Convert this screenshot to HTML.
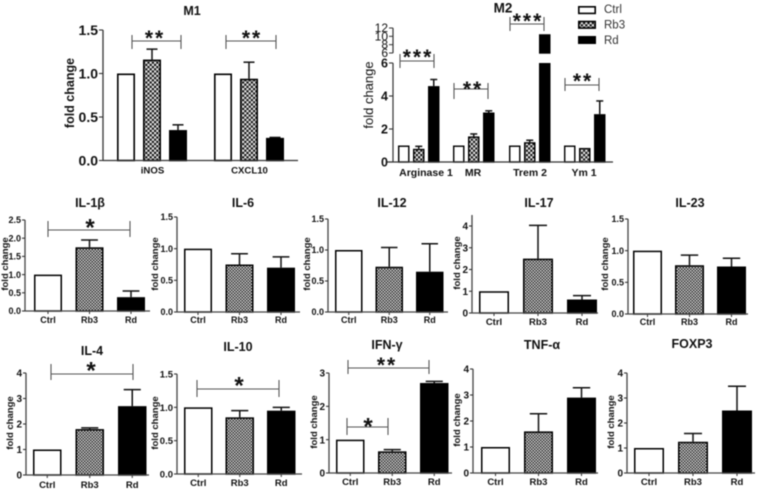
<!DOCTYPE html>
<html>
<head>
<meta charset="utf-8">
<title>Fold change charts</title>
<style>
html,body{margin:0;padding:0;background:#fff;width:760px;height:490px;overflow:hidden}
svg{display:block;filter:blur(0.5px)}
text{font-family:"Liberation Sans","DejaVu Sans",sans-serif;fill:#111}
</style>
</head>
<body>
<svg id="chart" xmlns="http://www.w3.org/2000/svg" width="760" height="490" viewBox="0 0 760 490">
  <defs>
    <pattern id="checkS" width="3" height="3" patternUnits="userSpaceOnUse">
      <rect width="3" height="3" fill="#2a2a2a"/>
      <rect width="1.5" height="1.5" fill="#d8d8d8"/>
      <rect x="1.5" y="1.5" width="1.5" height="1.5" fill="#d8d8d8"/>
    </pattern>
    <pattern id="checkL" width="4.4" height="4.4" patternUnits="userSpaceOnUse">
      <rect width="4.4" height="4.4" fill="#111"/>
      <rect width="2.2" height="2.2" fill="#eee"/>
      <rect x="2.2" y="2.2" width="2.2" height="2.2" fill="#eee"/>
    </pattern>
  </defs>
  <g>
    <g>
      <rect x="578.8" y="6.8" width="16.4" height="6.6" fill="#fff" stroke="#000" stroke-width="1.6"/>
      <text x="604" y="13" font-size="11.5" style="fill:#333">Ctrl</text>
    </g>
    <g>
      <rect x="578.8" y="21.5" width="16.4" height="6.6" fill="url(#checkL)" stroke="#000" stroke-width="1.6"/>
      <text x="604" y="28.5" font-size="11.5" style="fill:#333">Rb3</text>
    </g>
    <g>
      <rect x="578" y="36" width="18" height="8" fill="#000"/>
      <text x="604" y="44" font-size="11.5" style="fill:#333">Rd</text>
    </g>
  </g>
</svg>
<script>
// ---------- data ----------
const categories = ['Ctrl', 'Rb3', 'Rd'];

const m1Groups = ['iNOS', 'CXCL10'];
const m1Means = [[1, 1.16, 0.35], [1, 0.94, 0.26]];
const m1Errors = [[0, 0.12, 0.06], [0, 0.19, 0.005]];
const m1Ticks = ['0.0', '0.5', '1.0', '1.5'];

const m2Groups = ['Arginase 1', 'MR', 'Trem 2', 'Ym 1'];
const m2Means = [[1, 0.8, 4.6], [1, 1.55, 3.0], [1, 1.2, 10.5], [1, 0.85, 2.9]];
const m2Errors = [[0, 0.15, 0.4], [0, 0.15, 0.1], [0, 0.12, 0], [0, 0, 0.8]];
const m2LowerTicks = ['0', '2', '4', '6'];
const m2UpperTicks = ['6', '8', '10', '12'];

const il1bMeans = [1, 1.75, 0.38];
const il1bErrors = [0, 0.2, 0.17];
const il1bTicks = ['0.0', '0.5', '1.0', '1.5', '2.0', '2.5'];

const il6Means = [1, 0.75, 0.7];
const il6Errors = [0, 0.17, 0.17];
const il6Ticks = ['0.0', '0.5', '1.0', '1.5'];

const il12Means = [1, 0.73, 0.65];
const il12Errors = [0, 0.31, 0.45];
const il12Ticks = ['0.0', '0.5', '1.0', '1.5'];

const il17Means = [1, 2.5, 0.62];
const il17Errors = [0, 1.53, 0.18];
const il17Ticks = ['0', '1', '2', '3', '4'];

const il23Means = [1, 0.77, 0.75];
const il23Errors = [0, 0.16, 0.13];
const il23Ticks = ['0.0', '0.5', '1.0', '1.5'];

const il4Means = [1, 1.8, 2.7];
const il4Errors = [0, 0.05, 0.65];
const il4Ticks = ['0', '1', '2', '3', '4'];

const il10Means = [1, 0.85, 0.95];
const il10Errors = [0, 0.1, 0.05];
const il10Ticks = ['0.0', '0.5', '1.0', '1.5'];

const ifngMeans = [1, 0.65, 2.7];
const ifngErrors = [0, 0.05, 0.05];
const ifngTicks = ['0', '1', '2', '3'];

const tnfaMeans = [1, 1.6, 2.9];
const tnfaErrors = [0, 0.68, 0.38];
const tnfaTicks = ['0', '1', '2', '3', '4'];

const foxp3Means = [1, 1.25, 2.5];
const foxp3Errors = [0, 0.33, 0.97];
const foxp3Ticks = ['0', '1', '2', '3', '4'];

// ---------- helpers ----------
const NS = 'http://www.w3.org/2000/svg';
const root = document.getElementById('chart');

function mk(parent, tag, attrs, txt) {
  const el = document.createElementNS(NS, tag);
  for (const k in attrs) el.setAttribute(k, attrs[k]);
  if (txt !== undefined) el.textContent = txt;
  parent.appendChild(el);
  return el;
}
function line(parent, x1, y1, x2, y2, color, w) {
  return mk(parent, 'line', { x1: x1, y1: y1, x2: x2, y2: y2, stroke: color, 'stroke-width': w });
}
function linear(v0, p0, v1, p1) {
  return function (v) { return p0 + (v - v0) * (p1 - p0) / (v1 - v0); };
}
function drawBar(parent, x, w, yTop, yBase, idx, sw, pat) {
  const fills = ['#fff', 'url(#' + pat + ')', '#000'];
  return mk(parent, 'rect', {
    x: x + sw / 2, y: yTop + sw / 2, width: w - sw,
    height: Math.max(0.5, yBase - yTop - sw / 2),
    fill: fills[idx], stroke: '#000', 'stroke-width': sw
  });
}
function drawWhisker(parent, cx, yMean, yTop, capW, w) {
  const g = mk(parent, 'g', {});
  line(g, cx, yMean, cx, yTop, '#111', w);
  line(g, cx - capW / 2, yTop, cx + capW / 2, yTop, '#111', w);
  return g;
}
function drawBracket(parent, b) {
  const g = mk(parent, 'g', {});
  
  
  line(g, b.x1, b.y, b.x2, b.y, '#555', 1.1);
  line(g, b.x1, b.t1, b.x1, b.t2, '#555', 1.1);
  line(g, b.x2, b.t1, b.x2, b.t2, '#555', 1.1);
  const size = b.size || 21;
  const st = mk(g, 'text', {
    x: b.sx, y: b.sy - 1 + size * 0.56, 'font-size': size, 'font-weight': 'bold',
    'text-anchor': 'middle', 'letter-spacing': b.stars.length > 1 ? 2 : 0
  }, b.stars);
  
  
}
function yAxisLabel(parent, x, y, size, weight) {
  const t = mk(parent, 'text', {
    x: x, y: y, 'font-size': size, 'font-weight': weight, 'text-anchor': 'middle',
    transform: 'rotate(-90 ' + x + ' ' + y + ')'
  }, 'fold change');
  
  
}
function title(parent, text, x, y, size) {
  const t = mk(parent, 'text', {
    x: x, y: y, 'font-size': size, 'font-weight': 'bold', 'text-anchor': 'middle'
  }, text);
  
  
}
function drawTicks(parent, ticks, y, axisX, size, len) {
  ticks.forEach(function (lab) {
    const py = y(parseFloat(lab));
    line(parent, axisX - len, py, axisX, py, '#333', 1.1);
    const t = mk(parent, 'text', {
      x: axisX - len - 1, y: py + size * 0.36, 'font-size': size,
      'font-weight': 'bold', 'text-anchor': 'end'
    }, lab);
    
    
  });
}

// ---------- small three-bar panel ----------
function drawPanel(name, titleText, means, errors, ticks, L) {
  const g = mk(root, 'g', {});
  
  
  const lastTick = parseFloat(ticks[ticks.length - 1]);
  const y = linear(0, L.y0, lastTick, L.yT);
  const axisTop = L.axisTop === undefined ? L.yT : L.axisTop;

  title(g, titleText, L.tx, L.ty, L.ts || 12.5);
  yAxisLabel(g, L.lx, L.ly, L.ls || 9.5, 'bold');

  means.forEach(function (m, i) {
    const x = L.bx + i * L.step;
    const cx = x + L.bw / 2;
    if (errors[i] > 0) {
      const wh = drawWhisker(g, cx, y(m), y(m + errors[i]), L.bw * 0.6, 1.5);
      
      
    }
    const bar = drawBar(g, x, L.bw, y(m), L.y0, i, 1.5, 'checkS');
    
    
    line(g, cx, L.y0, cx, L.y0 + 3, '#333', 1);
    const xl = mk(g, 'text', {
      x: cx, y: L.xly, 'font-size': L.xs || 9, 'font-weight': 'bold', 'text-anchor': 'middle'
    }, categories[i]);
    
    
  });

  line(g, L.ax, axisTop, L.ax, L.y0 + 0.5, '#444', 1.3);
  line(g, L.ax, L.y0, L.end, L.y0, '#444', 1.3);
  drawTicks(g, ticks, y, L.ax, L.ys || 9, 3);
  (L.brackets || []).forEach(function (b) { drawBracket(g, b); });
}

// ---------- M1 ----------
(function () {
  const g = mk(root, 'g', {});
  
  
  const y = linear(0, 160.5, 1.5, 30);
  const groupX = [117, 214];
  const barW = 18, step = 26;
  title(g, 'M1', 192, 15, 12.5);
  yAxisLabel(g, 74, 93, 12.5, 'bold');
  m1Means.forEach(function (ms, gi) {
    ms.forEach(function (m, i) {
      const x = groupX[gi] + i * step;
      const cx = x + barW / 2;
      if (m1Errors[gi][i] > 0) {
        const wh = drawWhisker(g, cx, y(m), y(m + m1Errors[gi][i]), 11, 1.5);
        
        
      }
      const bar = drawBar(g, x, barW, y(m), 160.5, i, 1.6, 'checkL');
      
      
    });
    const xl = mk(g, 'text', {
      x: groupX[gi] + 35.5, y: 173.5, 'font-size': 9.6, 'font-weight': 'bold', 'text-anchor': 'middle'
    }, m1Groups[gi]);
    
    
  });
  line(g, 103, 30, 103, 161, '#333', 1.3);
  line(g, 103, 160.5, 298, 160.5, '#333', 1.3);
  drawTicks(g, m1Ticks, y, 103, 14, 4);
  drawBracket(g, { x1: 132, x2: 181, y: 41, t1: 35, t2: 49, sx: 155, sy: 34, stars: '**', size: 21 });
  drawBracket(g, { x1: 226, x2: 276, y: 41, t1: 35, t2: 49, sx: 252, sy: 34, stars: '**', size: 21 });
})();

// ---------- M2 (broken axis) ----------
(function () {
  const g = mk(root, 'g', {});
  
  
  const yLow = linear(0, 162, 6, 63);
  const yUp = linear(6, 53, 12, 28);
  const groupX = [398, 453, 509, 564];
  const barW = 11.5, step = 15;
  title(g, 'M2', 503, 12.5, 13.5);
  yAxisLabel(g, 373, 95, 13, 'normal');
  m2Means.forEach(function (ms, gi) {
    ms.forEach(function (m, i) {
      const x = groupX[gi] + i * step;
      const cx = x + barW / 2;
      const top = m + m2Errors[gi][i];
      if (m2Errors[gi][i] > 0) {
        const yf = top > 6 ? yUp : yLow;
        const wh = drawWhisker(g, cx, yf(m), yf(top), 7, 1.5);
        
        
      }
      if (m > 6) {
        const upper = drawBar(g, x, barW, yUp(m), yUp(6), i, 1.4, 'checkL');
        
        
        const lower = drawBar(g, x, barW, yLow(6), 162, i, 1.4, 'checkL');
        
        
      } else {
        const bar = drawBar(g, x, barW, yLow(m), 162, i, 1.4, 'checkL');
        
        
      }
    });
    const xl = mk(g, 'text', {
      x: [426, 473, 530, 584][gi], y: 176, 'font-size': 10.5, 'font-weight': 'bold', 'text-anchor': 'middle'
    }, m2Groups[gi]);
    
    
  });
  line(g, 393, 63, 393, 162.5, '#333', 1.2);
  line(g, 393, 28, 393, 53, '#333', 1.2);
  line(g, 387, 162, 613, 162, '#333', 1.2);
  drawTicks(g, m2LowerTicks, yLow, 393, 12.5, 4);
  m2UpperTicks.forEach(function (lab) {
    const py = yUp(parseFloat(lab));
    line(g, 389, py, 393, py, '#333', 1);
    const t = mk(g, 'text', {
      x: 388, y: py + 4, 'font-size': 12, 'text-anchor': 'end', 'font-weight': 'normal'
    }, lab);
    
    
  });
  drawBracket(g, { x1: 400, x2: 434, y: 61, t1: 54, t2: 68, sx: 418, sy: 53, stars: '***', size: 21 });
  drawBracket(g, { x1: 454, x2: 488, y: 89, t1: 83, t2: 99, sx: 473, sy: 85, stars: '**', size: 21 });
  drawBracket(g, { x1: 510, x2: 544, y: 24, t1: 17, t2: 31, sx: 528, sy: 17, stars: '***', size: 21 });
  drawBracket(g, { x1: 565, x2: 599, y: 85, t1: 78, t2: 91, sx: 583, sy: 77, stars: '**', size: 21 });
})();

// ---------- row 2 ----------
drawPanel('il-1b', 'IL-1β', il1bMeans, il1bErrors, il1bTicks, {
  ax: 25, y0: 311, yT: 220, end: 150, bx: 34, step: 41.5, bw: 28, tx: 90, ty: 207, lx: 8, ly: 264, xly: 323,
  brackets: [{ x1: 48, x2: 130, y: 230, t1: 221, t2: 237, sx: 90, sy: 223, stars: '*', size: 24 }]
});
drawPanel('il-6', 'IL-6', il6Means, il6Errors, il6Ticks, {
  ax: 177, y0: 312, yT: 217, end: 300, bx: 184, step: 41.5, bw: 28, tx: 243, ty: 207, lx: 158, ly: 264, xly: 323
});
drawPanel('il-12', 'IL-12', il12Means, il12Errors, il12Ticks, {
  ax: 328, y0: 312, yT: 219, end: 448, bx: 335, step: 40.5, bw: 27.5, tx: 392, ty: 207, lx: 310, ly: 264, xly: 323
});
drawPanel('il-17', 'IL-17', il17Means, il17Errors, il17Ticks, {
  ax: 472, y0: 313, yT: 226, axisTop: 215, end: 598, bx: 479, step: 44, bw: 30, tx: 539, ty: 207, lx: 460, ly: 263, xly: 325, xs: 9.5, ys: 10
});
drawPanel('il-23', 'IL-23', il23Means, il23Errors, il23Ticks, {
  ax: 628, y0: 314, yT: 219, end: 748, bx: 633, step: 42, bw: 29, tx: 690, ty: 207, lx: 608, ly: 264, xly: 325
});

// ---------- row 3 ----------
drawPanel('il-4', 'IL-4', il4Means, il4Errors, il4Ticks, {
  ax: 26, y0: 475, yT: 373, end: 149, bx: 33, step: 42.5, bw: 28.5, tx: 92, ty: 355, lx: 13, ly: 423, xly: 488, xs: 9.5, ys: 10,
  brackets: [{ x1: 51, x2: 133, y: 374, t1: 364, t2: 380, sx: 91, sy: 366, stars: '*', size: 24 }]
});
drawPanel('il-10', 'IL-10', il10Means, il10Errors, il10Ticks, {
  ax: 177, y0: 474, yT: 374, end: 302, bx: 184, step: 41.5, bw: 28.5, tx: 238, ty: 351, lx: 158, ly: 423, xly: 486, xs: 9.5, ys: 9.5,
  brackets: [{ x1: 197, x2: 279, y: 389, t1: 380, t2: 397, sx: 239, sy: 381, stars: '*', size: 24 }]
});
drawPanel('ifn-g', 'IFN-γ', ifngMeans, ifngErrors, ifngTicks, {
  ax: 329, y0: 473, yT: 373, end: 452, bx: 336, step: 42, bw: 28.5, tx: 387, ty: 349, lx: 317, ly: 422, xly: 485, xs: 9.5, ys: 10,
  brackets: [
    { x1: 348, x2: 429, y: 368, t1: 360, t2: 374, sx: 387, sy: 361, stars: '**', size: 21 },
    { x1: 347, x2: 388, y: 427, t1: 418, t2: 435, sx: 368, sy: 422, stars: '*', size: 24 }
  ]
});
drawPanel('tnf-a', 'TNF-α', tnfaMeans, tnfaErrors, tnfaTicks, {
  ax: 473, y0: 473, yT: 369, end: 598, bx: 481, step: 43, bw: 29, tx: 542, ty: 349, lx: 460, ly: 420, xly: 485, xs: 9.5, ys: 10
});
drawPanel('foxp3', 'FOXP3', foxp3Means, foxp3Errors, foxp3Ticks, {
  ax: 627, y0: 473, yT: 373, end: 755, bx: 634, step: 44, bw: 30, tx: 692, ty: 348, lx: 614, ly: 422, xly: 485, xs: 9.5, ys: 10
});
</script>
</body>
</html>
